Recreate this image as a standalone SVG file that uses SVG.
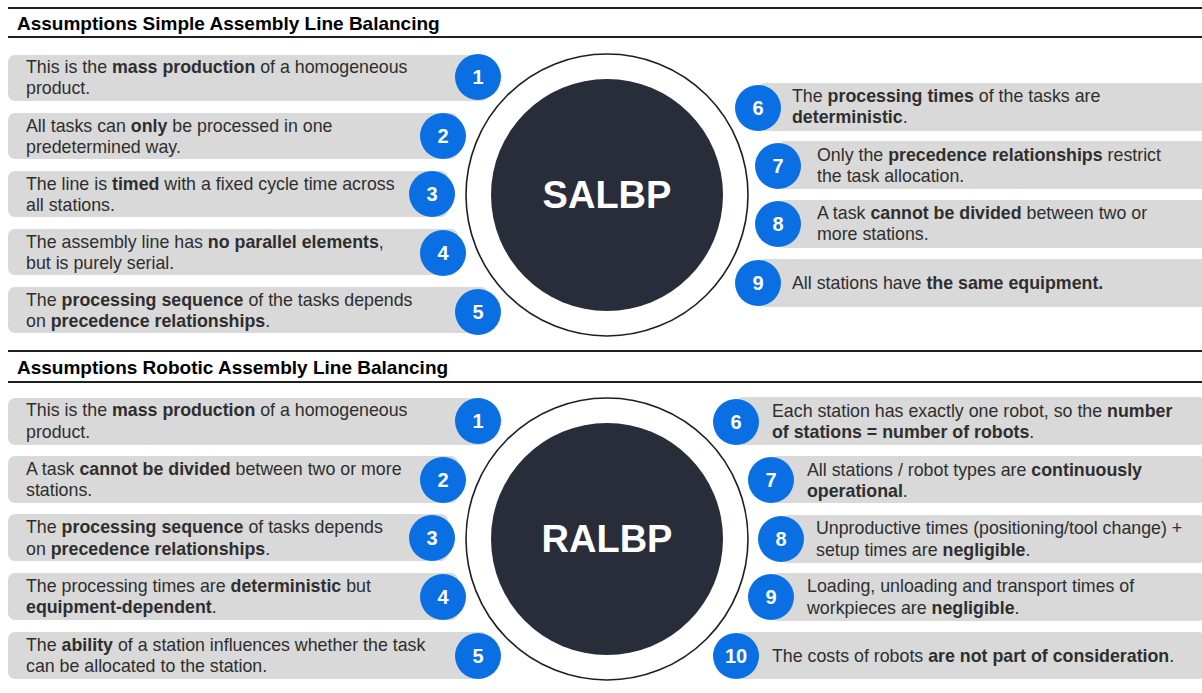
<svg xmlns="http://www.w3.org/2000/svg" width="1202" height="693" viewBox="0 0 1202 693">
  <style>
    .rule { stroke: #1f1f1f; stroke-width: 2; }
    .title { font-family: "Liberation Sans", Arial, sans-serif; font-size: 19px; font-weight: bold; fill: #000; }
    .box { fill: #d9d9d9; }
    .txt { font-family: "Liberation Sans", Arial, sans-serif; font-size: 17.8px; fill: #2e2e2e; }
    .b { font-weight: bold; }
    .badge { fill: #0a6fe3; }
    .num { font-family: "Liberation Sans", Arial, sans-serif; font-size: 20px; font-weight: bold; fill: #fff; text-anchor: middle; }
    .ring { fill: #fff; stroke: #1f1f1f; stroke-width: 1.6; }
    .core { fill: #292d3a; }
    .core-label { font-family: "Liberation Sans", Arial, sans-serif; font-size: 38px; font-weight: bold; fill: #fff; text-anchor: middle; }
  </style>

  <!-- Section headers -->
  <g id="header-salbp">
    <line class="rule" x1="8" y1="8" x2="1202" y2="8"/>
    <text class="title" x="17" y="30">Assumptions Simple Assembly Line Balancing</text>
    <line class="rule" x1="8" y1="37" x2="1202" y2="37"/>
  </g>
  <g id="header-ralbp">
    <line class="rule" x1="8" y1="351" x2="1202" y2="351"/>
    <text class="title" x="17" y="374">Assumptions Robotic Assembly Line Balancing</text>
    <line class="rule" x1="8" y1="382" x2="1202" y2="382"/>
  </g>

  <!-- Connectors: none drawn between items; items arranged around the hubs -->
  <g id="connectors"></g>

  <!-- ===== SALBP ===== -->
  <g id="salbp-1">
    <rect class="box" x="8" y="55" width="480" height="46" rx="7"/>
    <text class="txt" x="26" y="73">This is the <tspan class="b">mass production</tspan> of a homogeneous</text>
    <text class="txt" x="26" y="94">product.</text>
  </g>
  <g id="salbp-2">
    <rect class="box" x="8" y="113" width="450" height="46" rx="7"/>
    <text class="txt" x="26" y="132">All tasks can <tspan class="b">only</tspan> be processed in one</text>
    <text class="txt" x="26" y="153">predetermined way.</text>
  </g>
  <g id="salbp-3">
    <rect class="box" x="8" y="171" width="440" height="46" rx="7"/>
    <text class="txt" x="26" y="190">The line is <tspan class="b">timed</tspan> with a fixed cycle time across</text>
    <text class="txt" x="26" y="211">all stations.</text>
  </g>
  <g id="salbp-4">
    <rect class="box" x="8" y="229" width="450" height="46" rx="7"/>
    <text class="txt" x="26" y="248">The assembly line has <tspan class="b">no parallel elements</tspan>,</text>
    <text class="txt" x="26" y="269">but is purely serial.</text>
  </g>
  <g id="salbp-5">
    <rect class="box" x="8" y="287" width="480" height="46" rx="7"/>
    <text class="txt" x="26" y="306">The <tspan class="b">processing sequence</tspan> of the tasks depends</text>
    <text class="txt" x="26" y="327">on <tspan class="b">precedence relationships</tspan>.</text>
  </g>
  <g id="salbp-6">
    <rect class="box" x="758" y="83" width="450" height="48" rx="7"/>
    <text class="txt" x="792" y="102">The <tspan class="b">processing times</tspan> of the tasks are</text>
    <text class="txt" x="792" y="123"><tspan class="b">deterministic</tspan>.</text>
  </g>
  <g id="salbp-7">
    <rect class="box" x="778" y="141" width="430" height="48" rx="7"/>
    <text class="txt" x="817" y="161">Only the <tspan class="b">precedence relationships</tspan> restrict</text>
    <text class="txt" x="817" y="182">the task allocation.</text>
  </g>
  <g id="salbp-8">
    <rect class="box" x="778" y="200" width="430" height="48" rx="7"/>
    <text class="txt" x="817" y="219">A task <tspan class="b">cannot be divided</tspan> between two or</text>
    <text class="txt" x="817" y="240">more stations.</text>
  </g>
  <g id="salbp-9">
    <rect class="box" x="758" y="259" width="450" height="48" rx="7"/>
    <text class="txt" x="792" y="289">All stations have <tspan class="b">the same equipment.</tspan></text>
  </g>

  <g id="salbp-hub">
    <circle class="ring" cx="607" cy="195" r="141"/>
    <circle class="core" cx="607" cy="195" r="116"/>
    <text class="core-label" x="607" y="208">SALBP</text>
  </g>

  <g id="salbp-badges">
    <circle class="badge" cx="478" cy="77" r="23"/><text class="num" x="478" y="84">1</text>
    <circle class="badge" cx="443" cy="136" r="23"/><text class="num" x="443" y="143">2</text>
    <circle class="badge" cx="432" cy="194" r="23"/><text class="num" x="432" y="201">3</text>
    <circle class="badge" cx="443" cy="253" r="23"/><text class="num" x="443" y="260">4</text>
    <circle class="badge" cx="478" cy="312" r="23"/><text class="num" x="478" y="319">5</text>
    <circle class="badge" cx="758" cy="108" r="23"/><text class="num" x="758" y="115">6</text>
    <circle class="badge" cx="778" cy="166" r="23"/><text class="num" x="778" y="173">7</text>
    <circle class="badge" cx="778" cy="224" r="23"/><text class="num" x="778" y="231">8</text>
    <circle class="badge" cx="758" cy="283" r="23"/><text class="num" x="758" y="290">9</text>
  </g>

  <!-- ===== RALBP ===== -->
  <g id="ralbp-1">
    <rect class="box" x="8" y="398" width="480" height="47" rx="7"/>
    <text class="txt" x="26" y="416">This is the <tspan class="b">mass production</tspan> of a homogeneous</text>
    <text class="txt" x="26" y="438">product.</text>
  </g>
  <g id="ralbp-2">
    <rect class="box" x="8" y="456" width="450" height="47" rx="7"/>
    <text class="txt" x="26" y="475">A task <tspan class="b">cannot be divided</tspan> between two or more</text>
    <text class="txt" x="26" y="496">stations.</text>
  </g>
  <g id="ralbp-3">
    <rect class="box" x="8" y="514" width="440" height="47" rx="7"/>
    <text class="txt" x="26" y="533">The <tspan class="b">processing sequence</tspan> of tasks depends</text>
    <text class="txt" x="26" y="555">on <tspan class="b">precedence relationships</tspan>.</text>
  </g>
  <g id="ralbp-4">
    <rect class="box" x="8" y="573" width="450" height="47" rx="7"/>
    <text class="txt" x="26" y="592">The processing times are <tspan class="b">deterministic</tspan> but</text>
    <text class="txt" x="26" y="613"><tspan class="b">equipment-dependent</tspan>.</text>
  </g>
  <g id="ralbp-5">
    <rect class="box" x="8" y="632" width="480" height="47" rx="7"/>
    <text class="txt" x="26" y="651">The <tspan class="b">ability</tspan> of a station influences whether the task</text>
    <text class="txt" x="26" y="672">can be allocated to the station.</text>
  </g>
  <g id="ralbp-6">
    <rect class="box" x="736" y="397" width="470" height="48" rx="7"/>
    <text class="txt" x="772" y="417">Each station has exactly one robot, so the <tspan class="b">number</tspan></text>
    <text class="txt" x="772" y="438"><tspan class="b">of stations = number of robots</tspan>.</text>
  </g>
  <g id="ralbp-7">
    <rect class="box" x="771" y="456" width="435" height="47" rx="7"/>
    <text class="txt" x="807" y="476">All stations / robot types are <tspan class="b">continuously</tspan></text>
    <text class="txt" x="807" y="497"><tspan class="b">operational</tspan>.</text>
  </g>
  <g id="ralbp-8">
    <rect class="box" x="781" y="515" width="425" height="48" rx="7"/>
    <text class="txt" x="816" y="534">Unproductive times (positioning/tool change) +</text>
    <text class="txt" x="816" y="556">setup times are <tspan class="b">negligible</tspan>.</text>
  </g>
  <g id="ralbp-9">
    <rect class="box" x="771" y="573" width="435" height="48" rx="7"/>
    <text class="txt" x="807" y="592">Loading, unloading and transport times of</text>
    <text class="txt" x="807" y="614">workpieces are <tspan class="b">negligible</tspan>.</text>
  </g>
  <g id="ralbp-10">
    <rect class="box" x="736" y="632" width="470" height="47" rx="7"/>
    <text class="txt" x="772" y="662">The costs of robots <tspan class="b">are not part of consideration</tspan>.</text>
  </g>

  <g id="ralbp-hub">
    <circle class="ring" cx="607" cy="539" r="141"/>
    <circle class="core" cx="607" cy="539" r="116"/>
    <text class="core-label" x="607" y="552">RALBP</text>
  </g>

  <g id="ralbp-badges">
    <circle class="badge" cx="478" cy="421" r="23"/><text class="num" x="478" y="428">1</text>
    <circle class="badge" cx="443" cy="480" r="23"/><text class="num" x="443" y="487">2</text>
    <circle class="badge" cx="432" cy="538" r="23"/><text class="num" x="432" y="545">3</text>
    <circle class="badge" cx="443" cy="597" r="23"/><text class="num" x="443" y="604">4</text>
    <circle class="badge" cx="478" cy="656" r="23"/><text class="num" x="478" y="663">5</text>
    <circle class="badge" cx="736" cy="422" r="23"/><text class="num" x="736" y="429">6</text>
    <circle class="badge" cx="771" cy="480" r="23"/><text class="num" x="771" y="487">7</text>
    <circle class="badge" cx="781" cy="539" r="23"/><text class="num" x="781" y="546">8</text>
    <circle class="badge" cx="771" cy="597" r="23"/><text class="num" x="771" y="604">9</text>
    <circle class="badge" cx="736" cy="656" r="23"/><text class="num" x="736" y="663">10</text>
  </g>
</svg>
